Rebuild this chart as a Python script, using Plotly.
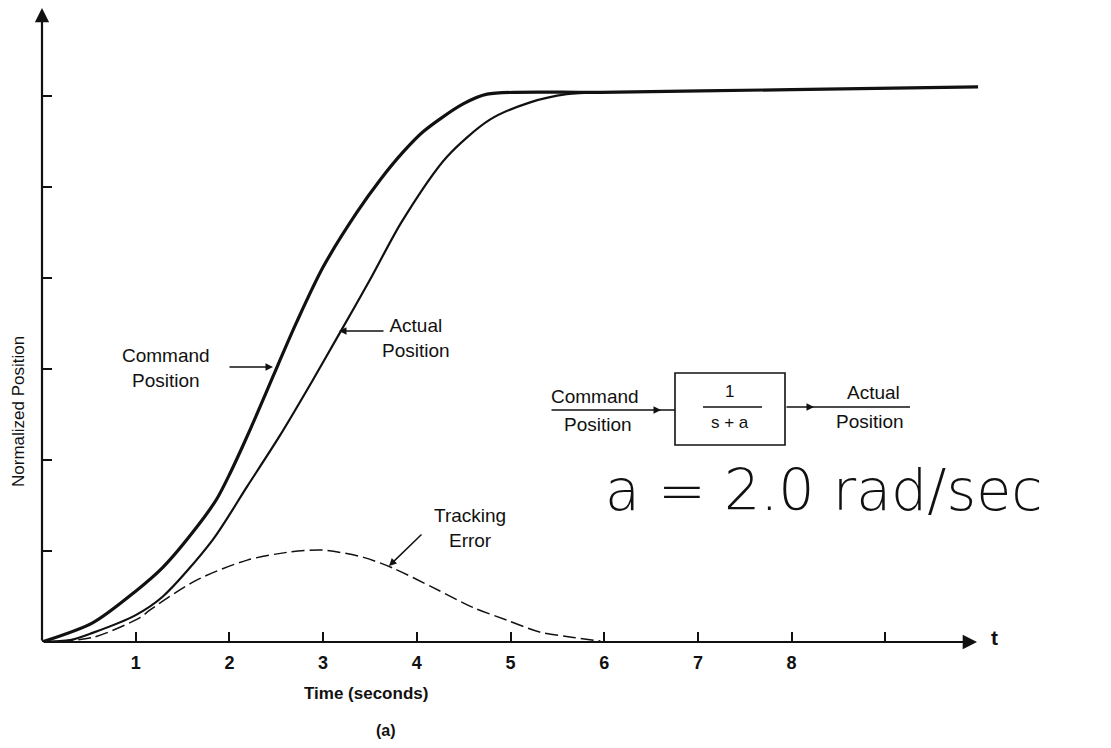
import plotly.graph_objects as go

# ---- data ----
t_cmd = [0, 0.54, 0.99, 1.29, 1.65, 1.87, 2.01, 2.15, 2.30, 2.47, 2.72, 3.00, 3.36,
         3.61, 3.85, 4.07, 4.49, 4.75, 5.96, 8.0, 9.99]
y_cmd = [0, 0.21, 0.55, 0.82, 1.26, 1.58, 1.86, 2.17, 2.52, 2.93, 3.52, 4.12, 4.72,
         5.08, 5.38, 5.61, 5.91, 6.02, 6.04, 6.07, 6.10]

t_act = [0, 0.30, 0.54, 0.99, 1.29, 1.82, 2.19, 2.54, 2.88, 3.18, 3.50, 3.84, 4.32,
         4.78, 5.21, 5.60, 5.96]
y_act = [0, 0.02, 0.10, 0.29, 0.50, 1.12, 1.71, 2.27, 2.86, 3.40, 3.98, 4.62, 5.33,
         5.74, 5.93, 6.02, 6.04]

t_err = [0, 0.54, 1.05, 1.15, 1.65, 2.19, 2.65, 3.00, 3.43, 3.75, 4.17, 4.60, 4.96,
         5.31, 5.67, 5.96]
y_err = [0, 0.05, 0.27, 0.35, 0.68, 0.90, 0.99, 1.01, 0.93, 0.81, 0.60, 0.38, 0.24,
         0.11, 0.05, 0.01]

x_ticks = [1, 2, 3, 4, 5, 6, 7, 8, 9]
x_tick_labels = ["1", "2", "3", "4", "5", "6", "7", "8", ""]
y_ticks = [1, 2, 3, 4, 5, 6]

# ---- layout geometry ----
W, H = 1111, 748
L, R, T, B = 42, 61, 5, 106
PW, PH = W - L - R, H - T - B
XS, YS = 93.7, 91.0          # pixels per unit
X_MAX = PW / XS
Y_MAX = PH / YS


def PX(px):
    return (px - L) / PW


def PY(py):
    return (H - B - py) / PH


def X(px):
    return (px - L) / XS


def Y(py):
    return (H - B - py) / YS


FONT = "Liberation Sans, Arial, sans-serif"
BLACK = "#111111"

fig = go.Figure()
fig.add_trace(go.Scatter(x=t_cmd, y=y_cmd, mode="lines", cliponaxis=False,
                         line=dict(color=BLACK, width=3.2, shape="spline", smoothing=0.8),
                         name="Command Position"))
fig.add_trace(go.Scatter(x=t_act, y=y_act, mode="lines", cliponaxis=False,
                         line=dict(color=BLACK, width=2.2, shape="spline", smoothing=0.8),
                         name="Actual Position"))
fig.add_trace(go.Scatter(x=t_err, y=y_err, mode="lines", cliponaxis=False,
                         line=dict(color=BLACK, width=1.5, dash="13px,5px", shape="spline",
                                   smoothing=0.8),
                         name="Tracking Error"))

ann = []


def text(px, py, s, size=19, family=FONT, weight=400, **kw):
    d = dict(x=PX(px), y=PY(py), xref="paper", yref="paper", text=s, showarrow=False,
             xanchor="center", yanchor="middle",
             font=dict(family=family, size=size, color=BLACK, weight=weight))
    d.update(kw)
    ann.append(d)


def arrow(px0, py0, px1, py1, width=1.5, size=1.0, head=2):
    ann.append(dict(x=PX(px1), y=PY(py1), xref="paper", yref="paper",
                    ax=px0 - px1, ay=py0 - py1, axref="pixel", ayref="pixel",
                    text="", showarrow=True, arrowhead=head,
                    arrowwidth=width, arrowsize=size, arrowcolor=BLACK, standoff=0,
                    startstandoff=0))


# axes with arrows
arrow(42, 642, 977, 642, width=2.2, size=1.3)
arrow(42, 642, 42, 8, width=2.2, size=1.3)
text(994, 637, "t", size=21, weight=700)
text(366, 693, "Time (seconds)", size=17, weight=700)
text(386, 730, "(a)", size=16, weight=700)
text(18, 412, "Normalized Position", size=17, textangle=-90)

# curve labels
text(166, 368, "Command<br>Position", size=19)
arrow(228, 367, 273, 367)
text(416, 338, "Actual<br>Position", size=19)
arrow(385, 331, 339, 331)
text(470, 528, "Tracking<br>Error", size=19)
arrow(423, 533, 389, 566)

# block diagram
shapes = [
    dict(type="rect", xref="x", yref="y", x0=X(675), x1=X(785), y0=Y(445), y1=Y(373),
         line=dict(color=BLACK, width=1.6)),
    dict(type="line", xref="x", yref="y", x0=X(703), x1=X(762), y0=Y(407), y1=Y(407),
         line=dict(color=BLACK, width=1.3)),
    dict(type="line", xref="x", yref="y", x0=X(655), x1=X(675), y0=Y(410), y1=Y(410),
         line=dict(color=BLACK, width=1.5)),
    dict(type="line", xref="x", yref="y", x0=X(810), x1=X(910), y0=Y(407), y1=Y(407),
         line=dict(color=BLACK, width=1.5)),
]
arrow(550, 410, 661, 410)
arrow(785, 407, 814, 407)
text(729, 391, "1", size=17)
text(730, 422, "s + a", size=17)
text(595, 396, "Command", size=19)
text(598, 424, "Position", size=19)
text(873, 392, "Actual", size=19)
text(870, 421, "Position", size=19)

# handwritten note
text(824, 490, "a = 2.0 rad/sec", size=57, family="DejaVu Sans, sans-serif", weight=300)

fig.update_layout(
    width=W, height=H, autosize=False,
    margin=dict(l=L, r=R, t=T, b=B, pad=0),
    paper_bgcolor="white", plot_bgcolor="white",
    showlegend=False,
    annotations=ann, shapes=shapes,
    xaxis=dict(range=[0, X_MAX], showgrid=False, zeroline=False, showline=False,
               ticks="inside", ticklen=10, tickwidth=2, tickcolor=BLACK,
               tickvals=x_ticks, ticktext=x_tick_labels, ticklabelstandoff=8,
               tickfont=dict(family=FONT, size=18, color=BLACK, weight=700),
               fixedrange=True),
    yaxis=dict(range=[0, Y_MAX], showgrid=False, zeroline=False, showline=False,
               ticks="inside", ticklen=10, tickwidth=2, tickcolor=BLACK,
               tickvals=y_ticks, showticklabels=False, fixedrange=True),
)

fig.write_html("out.html")
